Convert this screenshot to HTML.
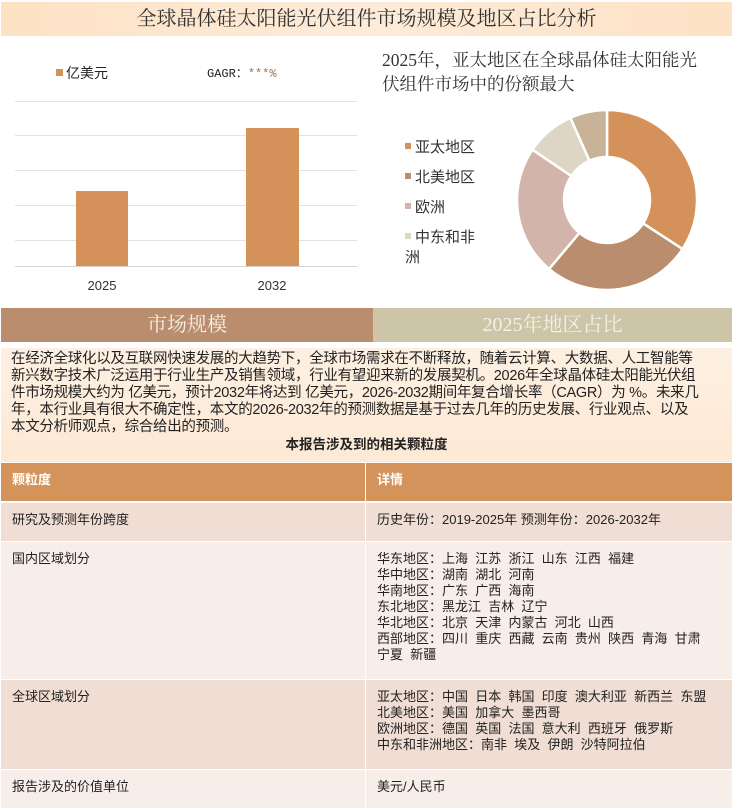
<!DOCTYPE html>
<html><head><meta charset="utf-8"><style>
*{margin:0;padding:0;box-sizing:border-box}
body{width:734px;height:810px;background:#fff;font-family:"Liberation Sans","Noto Sans CJK SC",sans-serif;position:relative;overflow:hidden;color:#222}
.a{position:absolute}
.title{left:1px;top:2px;width:731px;height:34px;background:linear-gradient(90deg,#fde2c4,#fdebd9 50%,#fde2c4);font-family:"Liberation Serif","Noto Serif CJK SC",serif;font-size:20px;text-align:center;line-height:34px;color:#333}
.sec{top:308px;height:34px;line-height:34px;font-size:20px;text-align:center;color:#f7efe6;font-family:"Liberation Serif","Noto Serif CJK SC",serif}
.para{left:1px;top:348px;width:731px;height:114px;background:linear-gradient(180deg,#fdf0e2,#fde9d4);padding:3px 10px;font-size:14.5px;line-height:17px;white-space:nowrap;letter-spacing:-0.3px}
.c{position:absolute;font-size:13px;line-height:16px;padding:9px 11px;white-space:pre;color:#222}
</style></head><body>
<div class="a title">全球晶体硅太阳能光伏组件市场规模及地区占比分析</div>
<div class="a" style="left:56px;top:63px;font-size:14px"><span style="display:inline-block;width:7px;height:7px;background:#d4915a;margin-right:3px;vertical-align:2px"></span>亿美元</div>
<div class="a" style="left:207px;top:64px;font-size:12px;font-family:'Liberation Mono',monospace">GAGR：<span style="color:#a07050">***%</span></div>
<svg class="a" style="left:0;top:95px" width="370" height="210">
<g stroke="#e2e2e2" stroke-width="1"><line x1="15" y1="6.5" x2="357" y2="6.5"/><line x1="15" y1="40.5" x2="357" y2="40.5"/><line x1="15" y1="75.5" x2="357" y2="75.5"/><line x1="15" y1="110.5" x2="357" y2="110.5"/><line x1="15" y1="145.5" x2="357" y2="145.5"/><line x1="15" y1="171.5" x2="357" y2="171.5" stroke="#d4d4d4"/></g>
<rect x="76" y="96" width="52" height="75" fill="#d4915a"/>
<rect x="246" y="33" width="53" height="138" fill="#d4915a"/>
<text x="102" y="195" font-size="13" text-anchor="middle" fill="#333">2025</text>
<text x="272" y="195" font-size="13" text-anchor="middle" fill="#333">2032</text>
</svg>
<div class="a" style="left:382px;top:48px;width:330px;font-size:17.5px;line-height:24px;font-family:'Liberation Serif','Noto Serif CJK SC',serif;color:#333">2025年，亚太地区在全球晶体硅太阳能光伏组件市场中的份额最大</div>
<div class="a" style="left:405px;top:133px;font-size:15px;line-height:30px;color:#333">
<div><span style="display:inline-block;width:6px;height:6px;background:#d4915a;margin-right:4px;vertical-align:3px"></span>亚太地区</div>
<div><span style="display:inline-block;width:6px;height:6px;background:#b98d6d;margin-right:4px;vertical-align:3px"></span>北美地区</div>
<div><span style="display:inline-block;width:6px;height:6px;background:#d3b4aa;margin-right:4px;vertical-align:3px"></span>欧洲</div>
<div style="line-height:20px;margin-top:5px"><span style="display:inline-block;width:6px;height:6px;background:#ded6c5;margin-right:4px;vertical-align:3px"></span>中东和非<br>洲</div>
</div>
<svg class="a" style="left:507px;top:100px" width="200" height="200" viewBox="-100 -100 200 200">
<g stroke="#fff" stroke-width="2.5">
<path fill="#d4915a" d="M0,-90 A90,90 0 0 1 75.5,49 L36.1,23.4 A43,43 0 0 0 0,-43Z"/>
<path fill="#b98d6d" d="M75.5,49 A90,90 0 0 1 -57.9,68.9 L-27.6,32.9 A43,43 0 0 0 36.1,23.4Z"/>
<path fill="#d3b4aa" d="M-57.9,68.9 A90,90 0 0 1 -74.6,-50.3 L-35.6,-24 A43,43 0 0 0 -27.6,32.9Z"/>
<path fill="#ded6c5" d="M-74.6,-50.3 A90,90 0 0 1 -36.6,-82.2 L-17.5,-39.3 A43,43 0 0 0 -35.6,-24Z"/>
<path fill="#c8b398" d="M-36.6,-82.2 A90,90 0 0 1 0,-90 L0,-43 A43,43 0 0 0 -17.5,-39.3Z"/>
</g></svg>
<div class="a sec" style="left:1px;width:372px;background:#b98d6d">市场规模</div>
<div class="a sec" style="left:373px;width:359px;background:#cdc5a8">2025年地区占比</div>
<div class="a para">在经济全球化以及互联网快速发展的大趋势下，全球市场需求在不断释放，随着云计算、大数据、人工智能等<br>新兴数字技术广泛运用于行业生产及销售领域，行业有望迎来新的发展契机。2026年全球晶体硅太阳能光伏组<br>件市场规模大约为 亿美元，预计2032年将达到 亿美元，2026-2032期间年复合增长率（CAGR）为 %。未来几<br>年，本行业具有很大不确定性，本文的2026-2032年的预测数据是基于过去几年的历史发展、行业观点、以及<br>本文分析师观点，综合给出的预测。
<div style="text-align:center;font-weight:bold;font-size:13.5px;margin-top:0px;letter-spacing:0">本报告涉及到的相关颗粒度</div></div>
<div class="a" style="left:1px;top:463px;width:364px;height:38px;background:#d4935a"></div>
<div class="a" style="left:366px;top:463px;width:366px;height:38px;background:#d4935a"></div>
<div class="c" style="left:1px;top:463px;color:#fff;font-weight:bold">颗粒度</div>
<div class="c" style="left:366px;top:463px;color:#fff;font-weight:bold">详情</div>
<div class="a" style="left:1px;top:503px;width:364px;height:38px;background:#f0ddd3"></div>
<div class="a" style="left:366px;top:503px;width:366px;height:38px;background:#f0ddd3"></div>
<div class="c" style="left:1px;top:503px">研究及预测年份跨度</div>
<div class="c" style="left:366px;top:503px">历史年份：2019-2025年 预测年份：2026-2032年</div>
<div class="a" style="left:1px;top:542px;width:364px;height:137px;background:#f8eee9"></div>
<div class="a" style="left:366px;top:542px;width:366px;height:137px;background:#f8eee9"></div>
<div class="c" style="left:1px;top:542px">国内区域划分</div>
<div class="c" style="left:366px;top:542px">华东地区：上海  江苏  浙江  山东  江西  福建
华中地区：湖南  湖北  河南
华南地区：广东  广西  海南
东北地区：黑龙江  吉林  辽宁
华北地区：北京  天津  内蒙古  河北  山西
西部地区：四川  重庆  西藏  云南  贵州  陕西  青海  甘肃
宁夏  新疆</div>
<div class="a" style="left:1px;top:680px;width:364px;height:89px;background:#f0ddd3"></div>
<div class="a" style="left:366px;top:680px;width:366px;height:89px;background:#f0ddd3"></div>
<div class="c" style="left:1px;top:680px">全球区域划分</div>
<div class="c" style="left:366px;top:680px">亚太地区：中国  日本  韩国  印度  澳大利亚  新西兰  东盟
北美地区：美国  加拿大  墨西哥
欧洲地区：德国  英国  法国  意大利  西班牙  俄罗斯
中东和非洲地区：南非  埃及  伊朗  沙特阿拉伯</div>
<div class="a" style="left:1px;top:770px;width:364px;height:38px;background:#f8eee9"></div>
<div class="a" style="left:366px;top:770px;width:366px;height:38px;background:#f8eee9"></div>
<div class="c" style="left:1px;top:770px">报告涉及的价值单位</div>
<div class="c" style="left:366px;top:770px">美元/人民币</div>
</body></html>
